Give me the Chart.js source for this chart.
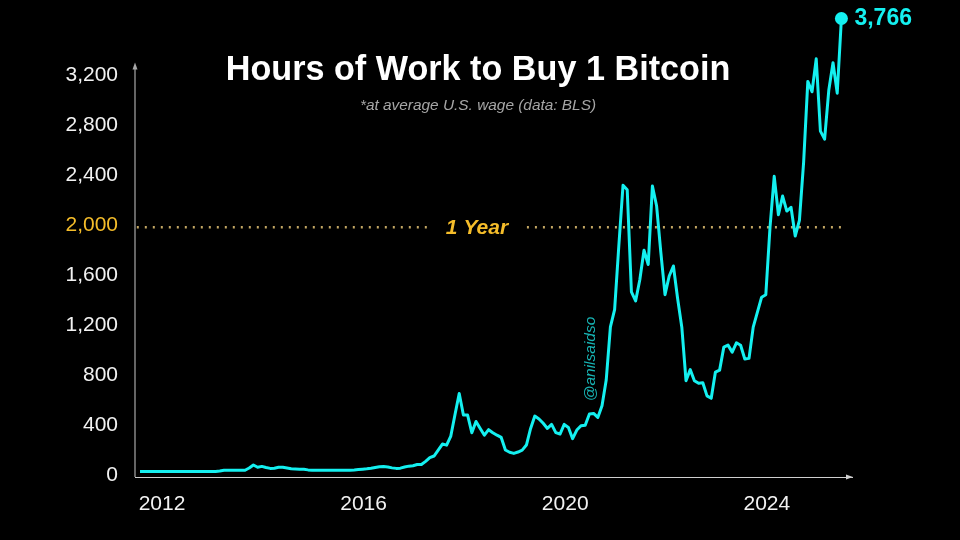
<!DOCTYPE html>
<html>
<head>
<meta charset="utf-8">
<style>
  html, body { margin: 0; background: #000; }
</style>
</head>
<body>
<canvas id="chart" width="960" height="540"></canvas>
<script src="https://cdn.jsdelivr.net/npm/chart.js@4/dist/chart.umd.js"></script>
<script>
// monthly, Aug 2011 .. Jul 2025
const startYear = 2011
const startMonth = 7
const hours = [
  45, 45, 45, 45, 45, 45, 45, 45, 45, 45, 45, 45, 45, 45, 45, 45, 45, 45, 45,
  48, 54, 54, 54, 54, 54, 54, 72, 96, 78, 85, 76, 69, 70, 78, 78, 72, 66, 64,
  62, 62, 57, 54, 54, 54, 54, 54, 54, 54, 54, 54, 55, 57, 60, 63, 66, 70, 76,
  82, 84, 80, 73, 69, 71, 80, 87, 90, 100, 100, 125, 155, 168, 215, 264, 255,
  328, 500, 669, 496, 496, 355, 445, 389, 335, 379, 355, 335, 317, 216, 198,
  189, 200, 215, 256, 389, 488, 465, 430, 389, 421, 355, 344, 421, 397, 307,
  376, 410, 415, 504, 509, 477, 570, 776, 1203, 1340, 1850, 2336, 2300, 1483,
  1410, 1580, 1816, 1702, 2331, 2170, 1800, 1460, 1610, 1690, 1430, 1200, 771,
  860, 771, 750, 755, 650, 630, 840, 856, 1040, 1056, 1000, 1075, 1055, 945,
  950, 1200, 1320, 1440, 1460, 2000, 2408, 2100, 2250, 2130, 2160, 1930, 2056,
  2520, 3168, 3085, 3349, 2770, 2706, 3100, 3317, 3074, 3672
]
const months = hours.map((_, i) => startYear + (startMonth + i) / 12)

const yearTicks = [2012, 2016, 2020, 2024]
const hourTicks = [0, 400, 800, 1200, 1600, 2000, 2400, 2800, 3200]
const oneYear = 2000
const refLeft = [2011.52, 2017.32]
const refRight = [2019.26, 2025.57]
const lastLabel = '3,766'

const cyan = '#14f0f0'
const gold = '#f5bd2a'
const font = '"Liberation Sans", Arial, sans-serif'

const toPoints = (xs, ys) => xs.map((x, i) => ({ x, y: ys[i] }))

const refLine = xs => ({
  data: toPoints(xs, [oneYear, oneYear]),
  borderColor: '#c2a663',
  borderWidth: 2.4,
  borderDash: [2, 6],
  pointRadius: 0,
  order: 2
})

const overlay = {
  id: 'overlay',
  afterDraw(chart) {
    const { ctx, scales: { x, y } } = chart
    const axisX = x.left
    const axisY = y.getPixelForValue(0)
    const topY = y.getPixelForValue(3280)

    ctx.save()
    // y axis with its arrow
    ctx.strokeStyle = '#a8a8a8'
    ctx.fillStyle = '#a8a8a8'
    ctx.lineWidth = 1.2
    ctx.beginPath()
    ctx.moveTo(axisX, axisY)
    ctx.lineTo(axisX, topY)
    ctx.stroke()
    ctx.beginPath()
    ctx.moveTo(axisX, topY - 5)
    ctx.lineTo(axisX - 2.5, topY + 2)
    ctx.lineTo(axisX + 2.5, topY + 2)
    ctx.fill()

    // x axis arrow head
    ctx.fillStyle = '#cfcfcf'
    ctx.beginPath()
    ctx.moveTo(x.right + 1, axisY)
    ctx.lineTo(x.right - 6, axisY - 2.5)
    ctx.lineTo(x.right - 6, axisY + 2.5)
    ctx.fill()

    // texts
    ctx.textBaseline = 'middle'
    ctx.textAlign = 'center'
    ctx.fillStyle = '#fff'
    ctx.font = `bold 34.2px ${font}`
    ctx.fillText('Hours of Work to Buy 1 Bitcoin', 478, 71)
    ctx.fillStyle = '#a6a6a6'
    ctx.font = `italic 15.4px ${font}`
    ctx.fillText('*at average U.S. wage (data: BLS)', 478, 106)
    ctx.fillStyle = gold
    ctx.font = `italic bold 21px ${font}`
    ctx.fillText('1 Year', 477, 228)

    const lastPt = chart.getDatasetMeta(0).data[hours.length - 1]
    ctx.textAlign = 'left'
    ctx.fillStyle = cyan
    ctx.font = `bold 23px ${font}`
    ctx.fillText(lastLabel, lastPt.x + 13, lastPt.y)

    ctx.translate(591, 359)
    ctx.rotate(-Math.PI / 2)
    ctx.textAlign = 'center'
    ctx.fillStyle = '#17b4b4'
    ctx.font = `italic 15.5px ${font}`
    ctx.fillText('@anilsaidso', 0, 0)
    ctx.restore()
  }
}

new Chart(document.getElementById('chart'), {
  type: 'line',
  plugins: [overlay],
  data: {
    datasets: [
      {
        data: toPoints(months, hours),
        borderColor: cyan,
        backgroundColor: cyan,
        borderWidth: 3,
        borderJoinStyle: 'round',
        tension: 0,
        pointRadius: ctx => ctx.dataIndex === hours.length - 1 ? 6.5 : 0,
        pointBorderWidth: 0,
        order: 1
      },
      refLine(refLeft),
      refLine(refRight)
    ]
  },
  options: {
    responsive: false,
    animation: false,
    events: [],
    layout: { padding: { top: 0, right: 108, left: 0, bottom: 0 } },
    plugins: { legend: { display: false }, tooltip: { enabled: false } },
    scales: {
      x: {
        type: 'linear',
        min: 2011.484,
        max: 2025.71,
        afterFit: s => { s.height = 63 },
        afterBuildTicks: s => { s.ticks = yearTicks.map(value => ({ value })) },
        grid: { display: false, drawTicks: false },
        border: { color: '#cfcfcf', width: 1 },
        ticks: {
          color: '#f2f2f2',
          font: { family: font, size: 21 },
          padding: 15,
          labelOffset: 1,
          maxRotation: 0,
          callback: v => String(v)
        }
      },
      y: {
        min: 0,
        max: 3768,
        afterFit: s => {
          s.width = 135
          s.paddingTop = 0
          s.paddingBottom = 0
        },
        afterBuildTicks: s => { s.ticks = hourTicks.map(value => ({ value })) },
        grid: { display: false, drawTicks: false },
        border: { display: false },
        ticks: {
          color: ctx => ctx.tick.value === oneYear ? gold : '#f2f2f2',
          font: { family: font, size: 21 },
          padding: 17,
          labelOffset: -2,
          callback: v => v.toLocaleString('en-US')
        }
      }
    }
  }
})
</script>
</body>
</html>
